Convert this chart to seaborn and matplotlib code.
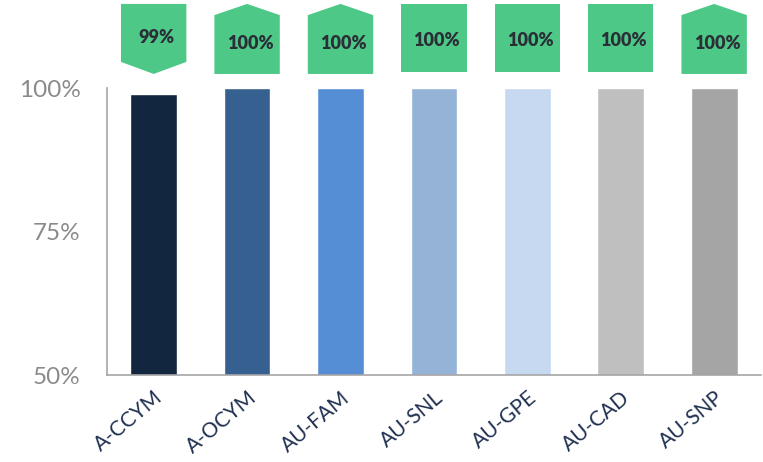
import numpy as np
import pandas as pd
import matplotlib
matplotlib.use("Agg")
import matplotlib.pyplot as plt
from matplotlib.patches import Polygon
import seaborn as sns

categories = ["A-CCYM", "A-OCYM", "AU-FAM", "AU-SNL", "AU-GPE", "AU-CAD", "AU-SNP"]
values = [0.99, 1.0, 1.0, 1.0, 1.0, 1.0, 1.0]
labels = ["99%", "100%", "100%", "100%", "100%", "100%", "100%"]
shapes = ["down", "up", "up", "rect", "rect", "rect", "up"]
colors = ["#12263f", "#36608f", "#558ed5", "#95b3d7", "#c6d9f1", "#bfbfbf", "#a5a5a5"]

sns.set_style("white")
plt.rcParams["font.family"] = ["Lato", "DejaVu Sans"]

df = pd.DataFrame({"cat": categories, "val": values})

fig = plt.figure(figsize=(7.63, 4.62), dpi=100)
ax = fig.add_axes([0.1402, 0.1883, 0.857, 0.6212])
sns.barplot(data=df, x="cat", y="val", hue="cat", palette=colors,
            width=0.5, legend=False, ax=ax, saturation=1)

ax.set_ylim(0.5, 1.0)
ax.set_xlim(-0.5, len(categories) - 0.5)
ax.set_yticks([0.5, 0.75, 1.0])
ax.set_yticklabels(["50%", "75%", "100%"], fontsize=17.5, color="#8a8a8a")
ax.tick_params(axis="y", length=0, pad=19)
ax.tick_params(axis="x", length=0, pad=9)
for lbl in ax.get_xticklabels():
    lbl.set_rotation(40)
    lbl.set_ha("right")
    lbl.set_rotation_mode("anchor")
    lbl.set_fontsize(15)
    lbl.set_color("#1f3050")
ax.set_xlabel("")
ax.set_ylabel("")
sns.despine(ax=ax)
for s in ["left", "bottom"]:
    ax.spines[s].set_color("#a6a6a6")
    ax.spines[s].set_linewidth(1.2)

# green callouts above the bars (y in axes fraction)
trans = ax.get_xaxis_transform()
hw = 0.35
for i, (lab, shp) in enumerate(zip(labels, shapes)):
    if shp == "down":
        pts = [(i - hw, 1.293), (i + hw, 1.293), (i + hw, 1.091), (i, 1.049), (i - hw, 1.091)]
        ty = 1.175
    elif shp == "up":
        pts = [(i - hw, 1.049), (i + hw, 1.049), (i + hw, 1.254), (i, 1.293), (i - hw, 1.254)]
        ty = 1.155
    else:
        pts = [(i - hw, 1.056), (i + hw, 1.056), (i + hw, 1.293), (i - hw, 1.293)]
        ty = 1.165
    ax.add_patch(Polygon(pts, closed=True, transform=trans, clip_on=False,
                         facecolor="#4dc887", edgecolor="none"))
    ax.text(i + 0.03, ty, lab, transform=trans, ha="center", va="center",
            fontsize=13, fontweight="heavy", color="#2a2e36", clip_on=False)

fig.savefig("out.png", dpi=100)
